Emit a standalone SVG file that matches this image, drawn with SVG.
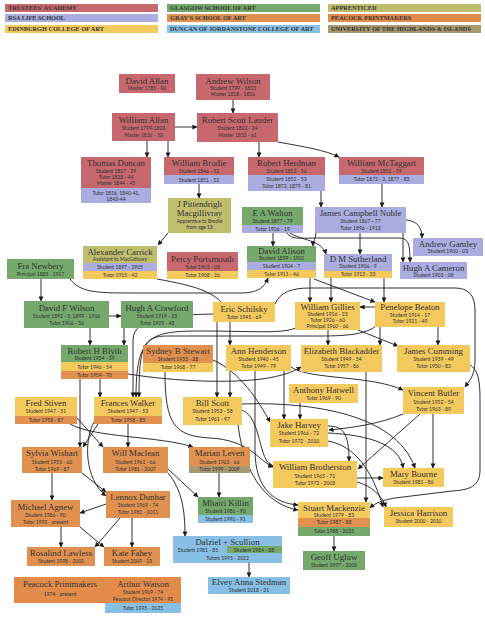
<svg xmlns="http://www.w3.org/2000/svg" width="485" height="620" viewBox="0 0 485 620">
<defs>
<marker id="ah" markerWidth="5" markerHeight="5" refX="4.6" refY="2.5" orient="auto" markerUnits="userSpaceOnUse"><path d="M0,0 L5,2.5 L0,5 z" fill="#1a1a1a"/></marker>
</defs>
<style>
.tr{fill:#c7686f}.rs{fill:#a9ade0}.ec{fill:#f4c95e}.gs{fill:#74a96b}.gr{fill:#e0914f}.dj{fill:#87bfe5}.ap{fill:#c0bd6f}.pp{fill:#e38b4a}.uh{fill:#a9986f}
.n{font-family:"Liberation Serif",serif;font-size:8.8px;fill:#333;text-anchor:middle}
.d{font-family:Lato,"Liberation Sans",sans-serif;font-size:5px;fill:#333;text-anchor:middle}
.lg{font-family:"Liberation Serif",serif;font-weight:bold;font-size:6.3px;fill:#333}
#connectors path{fill:none;stroke:#1a1a1a;stroke-width:0.9;marker-end:url(#ah)}
</style>
<rect width="485" height="620" fill="#ffffff"/>
<g id="legend">
<rect class="tr" x="5" y="4" width="153" height="8"/><text class="lg" x="8" y="10.2">TRUSTEES' ACADEMY</text>
<rect class="rs" x="5" y="14" width="153" height="8"/><text class="lg" x="8" y="20.2">RSA LIFE SCHOOL</text>
<rect class="ec" x="5" y="25" width="153" height="8"/><text class="lg" x="8" y="31.2">EDINBURGH COLLEGE OF ART</text>
<rect class="gs" x="167" y="4" width="153" height="8"/><text class="lg" x="170" y="10.2">GLASGOW SCHOOL OF ART</text>
<rect class="gr" x="167" y="14" width="153" height="8"/><text class="lg" x="170" y="20.2">GRAY'S SCHOOL OF ART</text>
<rect class="dj" x="167" y="25" width="153" height="8"/><text class="lg" x="170" y="31.2">DUNCAN OF JORDANSTONE COLLEGE OF ART</text>
<rect class="ap" x="328" y="4" width="153" height="8"/><text class="lg" x="331" y="10.2">APPRENTICED</text>
<rect class="pp" x="328" y="14" width="153" height="8"/><text class="lg" x="331" y="20.2">PEACOCK PRINTMAKERS</text>
<rect class="uh" x="328" y="25" width="153" height="8"/><text class="lg" x="331" y="31.2">UNIVERSITY OF THE HIGHLANDS &amp; ISLANDS</text>
</g>
<g id="connectors">
<path d="M233,100 V113"/>
<path d="M175,127 H197"/>
<path d="M147,141 V157"/>
<path d="M168,141 V157"/>
<path d="M259,142 V157"/>
<path d="M278,142 C305,147 325,150 339,157"/>
<path d="M199,184 V198"/>
<path d="M168,233 L158,245"/>
<path d="M321,191 V207"/>
<path d="M382,184 V207"/>
<path d="M406,220 C418,221 422,228 422,238"/>
<path d="M273,233 V246"/>
<path d="M290,233 C300,240 322,240 326,254"/>
<path d="M360,233 V254"/>
<path d="M316,233 C316,238 313,241 313,246"/>
<path d="M403,233 V262"/>
<path d="M287,233 C292,240 300,238 320,238 L398,238 C408,238 410,242 410,262"/>
<path d="M41,279 V301"/>
<path d="M109,316 H121"/>
<path d="M70,279 C80,292 95,293 130,293 L240,293 C258,293 264,288 268,278"/>
<path d="M90,328 V345"/>
<path d="M124,328 V345"/>
<path d="M157,279 C195,286 225,292 230,320 L230,345"/>
<path d="M217,322 V397"/>
<path d="M230,371 V397"/>
<path d="M310,278 V302"/>
<path d="M331,278 V302"/>
<path d="M384,278 V302"/>
<path d="M314,279 L375,302"/>
<path d="M375,307 H360"/>
<path d="M275,304 C280,292 292,288 310,288 L455,288 C468,288 475,295 475,310 L475,360 C475,375 470,380 465,387"/>
<path d="M470,365 C478,370 480,380 480,400 L480,470 C480,486 470,490 452,491 L395,498 C383,500 375,503 370,508"/>
<path d="M328,330 V345"/>
<path d="M438,327 V345"/>
<path d="M380,327 V345"/>
<path d="M358,330 L398,346"/>
<path d="M213,314 C175,315 133,316 133,340 V397"/>
<path d="M296,328 C280,334 255,331 200,331 C150,331 136,336 136,397"/>
<path d="M376,326 C362,337 335,336 300,336 L170,336 C145,336 139,341 139,397"/>
<path d="M100,379 V397"/>
<path d="M80,379 V447"/>
<path d="M128,374 C180,382 230,383 262,379 C282,376 293,372 301,367"/>
<path d="M213,360 C240,372 258,400 270,422"/>
<path d="M165,372 C165,425 175,436 210,438 C250,440 260,462 273,467"/>
<path d="M291,367 C310,380 370,375 403,390"/>
<path d="M284,371 V419"/>
<path d="M255,371 L255,450 C255,490 275,503 298,505"/>
<path d="M300,403 V419"/>
<path d="M403,414 C380,424 350,428 329,430"/>
<path d="M366,372 V502"/>
<path d="M433,414 V468"/>
<path d="M420,414 L358,469"/>
<path d="M328,433 C370,435 400,445 403,468"/>
<path d="M357,478 H383"/>
<path d="M357,482 C372,486 382,496 386,507"/>
<path d="M328,441 C355,446 372,470 383,507"/>
<path d="M328,426 C343,426 349,433 349,461"/>
<path d="M242,410 C262,418 258,462 273,466"/>
<path d="M238,425 C245,480 270,505 298,510"/>
<path d="M242,404 C300,402 395,410 415,468"/>
<path d="M77,418 L103,447"/>
<path d="M70,424 C95,438 160,436 193,447"/>
<path d="M98,424 L83,447"/>
<path d="M128,424 V447"/>
<path d="M94,422 C84,440 84,478 106,496"/>
<path d="M82,473 L106,492"/>
<path d="M52,473 V500"/>
<path d="M106,504 L80,513"/>
<path d="M168,469 L198,497"/>
<path d="M168,473 C182,490 185,510 185,536"/>
<path d="M219,473 V497"/>
<path d="M61,527 V547"/>
<path d="M80,527 L104,547"/>
<path d="M120,518 L95,547"/>
<path d="M132,518 V547"/>
<path d="M249,563 V577"/>
<path d="M334,536 V551"/>
</g>
<g id="david-allan"><rect class="tr" x="119" y="74" width="56" height="19"/><text class="n" x="147" y="83.5">David Allan</text><text class="d" x="147" y="90">Master 1785 - 96</text></g>
<g id="andrew-wilson"><rect class="tr" x="196" y="74" width="74" height="26"/><text class="n" x="233" y="83.5">Andrew Wilson</text><text class="d" x="233" y="89.5">Student 1799 - 1803</text><text class="d" x="233" y="96">Master 1818 - 1826</text></g>
<g id="william-allan"><rect class="tr" x="112" y="113" width="63" height="28"/><text class="n" x="143.5" y="122.5">William Allan</text><text class="d" x="143.5" y="129.5">Student 1799-1803</text><text class="d" x="143.5" y="136.5">Master 1826 - 50</text></g>
<g id="robert-scott-lauder"><rect class="tr" x="197" y="113" width="81" height="29"/><text class="n" x="237.5" y="122.5">Robert Scott Lauder</text><text class="d" x="237.5" y="129.5">Student 1822 - 24</text><text class="d" x="237.5" y="136.5">Master 1852 - 61</text></g>
<g id="thomas-duncan"><rect class="tr" x="81" y="157" width="70" height="31"/><rect class="rs" x="81" y="188" width="70" height="15"/><text class="n" x="116" y="166.3">Thomas Duncan</text><text class="d" x="116" y="172.5">Student 1817 - 29</text><text class="d" x="116" y="178.5">Tutor 1838 - 44</text><text class="d" x="116" y="184.5">Master 1844 - 45</text><text class="d" x="116" y="194.5">Tutor 1836, 1840-41,</text><text class="d" x="116" y="200.5">1843-44</text></g>
<g id="william-brodie"><rect class="tr" x="164" y="157" width="70" height="18"/><rect class="rs" x="164" y="175" width="70" height="9"/><text class="n" x="199" y="166.3">William Brodie</text><text class="d" x="199" y="172.5">Student 1846 - 52</text><text class="d" x="199" y="181.5">Student 1851 - 52</text></g>
<g id="robert-herdman"><rect class="tr" x="248" y="157" width="77" height="18"/><rect class="rs" x="248" y="175" width="77" height="16"/><text class="n" x="286.5" y="166.3">Robert Herdman</text><text class="d" x="286.5" y="172.5">Student 1852 - 56</text><text class="d" x="286.5" y="181">Student 1852 - 53</text><text class="d" x="286.5" y="188">Tutor 1872, 1879 - 81</text></g>
<g id="william-mctaggart"><rect class="tr" x="339" y="157" width="85" height="18"/><rect class="rs" x="339" y="175" width="85" height="9"/><text class="n" x="381.5" y="166.3">William McTaggart</text><text class="d" x="381.5" y="172.5">Student 1852 - 59</text><text class="d" x="381.5" y="181.3">Tutor 1872 - 3, 1877 - 83</text></g>
<g id="pittendrigh-macgillivray"><rect class="ap" x="168" y="198" width="63" height="35"/><text class="n" x="199.5" y="206.6">J Pittendrigh</text><text class="n" x="199.5" y="215.8">Macgillivray</text><text class="d" x="199.5" y="223">Apprentice to Brodie</text><text class="d" x="199.5" y="228.8">from age 13</text></g>
<g id="ea-walton"><rect class="gs" x="242" y="207" width="61" height="18"/><rect class="rs" x="242" y="225" width="61" height="8"/><text class="n" x="272.5" y="216">E A Walton</text><text class="d" x="272.5" y="222.5">Student 1877 - 79</text><text class="d" x="272.5" y="230.5">Tutor 1906 - 19</text></g>
<g id="james-campbell-noble"><rect class="rs" x="315" y="207" width="91" height="26"/><text class="n" x="360.5" y="216">James Campbell Noble</text><text class="d" x="360.5" y="222.5">Student 1867 - 77</text><text class="d" x="360.5" y="230">Tutor 1896 - 1913</text></g>
<g id="andrew-gamley"><rect class="rs" x="413" y="238" width="70" height="18"/><text class="n" x="448" y="247.3">Andrew Gamley</text><text class="d" x="448" y="252.8">Student 1900 - 03</text></g>
<g id="alexander-carrick"><rect class="ap" x="83" y="246" width="74" height="17"/><rect class="rs" x="83" y="263" width="74" height="8"/><rect class="ec" x="83" y="271" width="74" height="8"/><text class="n" x="120" y="255">Alexander Carrick</text><text class="d" x="120" y="261">Assistant to MacGillivary</text><text class="d" x="120" y="269">Student 1897 - 1905</text><text class="d" x="120" y="277">Tutor 1915 - 42</text></g>
<g id="percy-portsmouth"><rect class="tr" x="167" y="252" width="71" height="19"/><rect class="ec" x="167" y="271" width="71" height="8"/><text class="n" x="202.5" y="261.5">Percy Portsmouth</text><text class="d" x="202.5" y="268.5">Tutor 1903 - 08</text><text class="d" x="202.5" y="276.5">Tutor 1908 - 26</text></g>
<g id="david-alison"><rect class="gs" x="247" y="246" width="69" height="16"/><rect class="rs" x="247" y="262" width="69" height="8"/><rect class="ec" x="247" y="270" width="69" height="8"/><text class="n" x="281.5" y="253.5">David Alison</text><text class="d" x="281.5" y="260">Student 1899 - 1901</text><text class="d" x="281.5" y="268">Student 1904 - 7</text><text class="d" x="281.5" y="276">Tutor 1911 - 46</text></g>
<g id="dm-sutherland"><rect class="rs" x="324" y="254" width="68" height="17"/><rect class="ec" x="324" y="271" width="68" height="7"/><text class="n" x="358" y="262">D M Sutherland</text><text class="d" x="358" y="268.3">Student 1906 - 9</text><text class="d" x="358" y="276.3">Tutor 1913 - 33</text></g>
<g id="hugh-a-cameron"><rect class="rs" x="400" y="262" width="67" height="17"/><text class="n" x="433.5" y="270.5">Hugh A Cameron</text><text class="d" x="433.5" y="276.8">Student 1903 - 08</text></g>
<g id="fra-newbery"><rect class="gs" x="7" y="259" width="67" height="20"/><text class="n" x="40.5" y="269">Fra Newbery</text><text class="d" x="40.5" y="275.5">Principal 1885 - 1917</text></g>
<g id="david-f-wilson"><rect class="gs" x="24" y="301" width="85" height="27"/><text class="n" x="66.5" y="311">David F Wilson</text><text class="d" x="66.5" y="317.8">Student 1892 - 3, 1899 - 1906</text><text class="d" x="66.5" y="324.5">Tutor 1906 - 36</text></g>
<g id="hugh-a-crawford"><rect class="gs" x="121" y="301" width="72" height="27"/><text class="n" x="157" y="311">Hugh A Crawford</text><text class="d" x="157" y="317.8">Student 1919 - 23</text><text class="d" x="157" y="324.5">Tutor 1925 - 48</text></g>
<g id="eric-schilsky"><rect class="ec" x="213" y="302" width="62" height="20"/><text class="n" x="244" y="311.5">Eric Schilsky</text><text class="d" x="244" y="318.5">Tutor 1945 - 69</text></g>
<g id="william-gillies"><rect class="ec" x="295" y="302" width="65" height="28"/><text class="n" x="327.5" y="309.6">William Gillies</text><text class="d" x="327.5" y="316.3">Student 1916 - 23</text><text class="d" x="327.5" y="322.1">Tutor 1926 - 60</text><text class="d" x="327.5" y="327.9">Principal 1960 - 66</text></g>
<g id="penelope-beaton"><rect class="ec" x="375" y="302" width="70" height="25"/><text class="n" x="410" y="310.3">Penelope Beaton</text><text class="d" x="410" y="316.8">Student 1914 - 17</text><text class="d" x="410" y="322.8">Tutor 1921 - 49</text></g>
<g id="robert-h-blyth"><rect class="gs" x="61" y="345" width="67" height="17"/><rect class="ec" x="61" y="362" width="67" height="9"/><rect class="gr" x="61" y="371" width="67" height="8"/><text class="n" x="94.5" y="353.8">Robert H Blyth</text><text class="d" x="94.5" y="360">Student 1934 - 39</text><text class="d" x="94.5" y="368.5">Tutor 1946 - 54</text><text class="d" x="94.5" y="376.8">Tutor 1954 - 70</text></g>
<g id="sydney-b-stewart"><rect class="gr" x="143" y="345" width="70" height="18"/><rect class="ec" x="143" y="363" width="70" height="9"/><text class="n" x="178" y="354">Sydney B Stewart</text><text class="d" x="178" y="360.8">Student 1933 - 38</text><text class="d" x="178" y="369.3">Tutor 1968 - 77</text></g>
<g id="ann-henderson"><rect class="ec" x="226" y="345" width="65" height="26"/><text class="n" x="258.5" y="354">Ann Henderson</text><text class="d" x="258.5" y="360.8">Student 1940 - 45</text><text class="d" x="258.5" y="367.8">Tutor 1949 - 79</text></g>
<g id="elizabeth-blackadder"><rect class="ec" x="301" y="345" width="81" height="27"/><text class="n" x="341.5" y="354">Elizabeth Blackadder</text><text class="d" x="341.5" y="360.8">Student 1949 - 54</text><text class="d" x="341.5" y="367.8">Tutor 1957 - 86</text></g>
<g id="james-cumming"><rect class="ec" x="397" y="345" width="73" height="27"/><text class="n" x="433.5" y="354">James Cumming</text><text class="d" x="433.5" y="360.8">Student 1939 - 49</text><text class="d" x="433.5" y="367.8">Tutor 1950 - 82</text></g>
<g id="anthony-hatwell"><rect class="ec" x="289" y="384" width="69" height="19"/><text class="n" x="323.5" y="393">Anthony Hatwell</text><text class="d" x="323.5" y="400">Tutor 1969 - 90</text></g>
<g id="vincent-butler"><rect class="ec" x="403" y="387" width="61" height="27"/><text class="n" x="433.5" y="396.3">Vincent Butler</text><text class="d" x="433.5" y="403.5">Student 1952 - 54</text><text class="d" x="433.5" y="410.8">Tutor 1963 - 89</text></g>
<g id="fred-stiven"><rect class="ec" x="15" y="397" width="62" height="19"/><rect class="gr" x="15" y="416" width="62" height="8"/><text class="n" x="46" y="406.3">Fred Stiven</text><text class="d" x="46" y="412.8">Student 1947 - 51</text><text class="d" x="46" y="421.8">Tutor 1958 - 87</text></g>
<g id="frances-walker"><rect class="ec" x="94" y="397" width="68" height="19"/><rect class="gr" x="94" y="416" width="68" height="8"/><text class="n" x="128" y="406.3">Frances Walker</text><text class="d" x="128" y="412.8">Student 1947 - 53</text><text class="d" x="128" y="421.8">Tutor 1958 - 85</text></g>
<g id="bill-scott"><rect class="ec" x="183" y="397" width="59" height="28"/><text class="n" x="212.5" y="406.3">Bill Scott</text><text class="d" x="212.5" y="412.8">Student 1953 - 58</text><text class="d" x="212.5" y="421">Tutor 1961 - 97</text></g>
<g id="jake-harvey"><rect class="ec" x="270" y="419" width="58" height="28"/><text class="n" x="299" y="427.6">Jake Harvey</text><text class="d" x="299" y="435.3">Student 1966 - 72</text><text class="d" x="299" y="443">Tutor 1972 - 2010</text></g>
<g id="sylvia-wishart"><rect class="gr" x="22" y="447" width="60" height="26"/><text class="n" x="52" y="456.3">Sylvia Wishart</text><text class="d" x="52" y="464">Student 1955 - 60</text><text class="d" x="52" y="470.8">Tutor 1969 - 87</text></g>
<g id="will-maclean"><rect class="gr" x="103" y="447" width="65" height="26"/><text class="n" x="135.5" y="456.3">Will Maclean</text><text class="d" x="135.5" y="464">Student 1961 - 66</text><text class="d" x="135.5" y="470.8">Tutor 1981 - 2007</text></g>
<g id="marian-leven"><rect class="gr" x="189" y="447" width="61" height="19"/><rect class="uh" x="189" y="466" width="61" height="7"/><text class="n" x="219.5" y="456.3">Marian Leven</text><text class="d" x="219.5" y="464">Student 1962 - 66</text><text class="d" x="219.5" y="471.3">Tutor 1999 - 2009</text></g>
<g id="william-brotherston"><rect class="ec" x="273" y="461" width="84" height="27"/><text class="n" x="315" y="470.3">William Brotherston</text><text class="d" x="315" y="477.5">Student 1965 - 71</text><text class="d" x="315" y="484.5">Tutor 1972 - 2003</text></g>
<g id="mary-bourne"><rect class="ec" x="383" y="468" width="61" height="19"/><text class="n" x="413.5" y="477">Mary Bourne</text><text class="d" x="413.5" y="484">Student 1981 - 86</text></g>
<g id="michael-agnew"><rect class="gr" x="11" y="500" width="69" height="27"/><text class="n" x="45.5" y="510.3">Michael Agnew</text><text class="d" x="45.5" y="516.8">Student 1986 - 90</text><text class="d" x="45.5" y="523.5">Tutor 1993 - present</text></g>
<g id="lennox-dunbar"><rect class="gr" x="106" y="491" width="64" height="27"/><text class="n" x="138" y="500">Lennox Dunbar</text><text class="d" x="138" y="506.8">Student 1969 - 74</text><text class="d" x="138" y="513.5">Tutor 1981 - 2011</text></g>
<g id="mhairi-killin"><rect class="gs" x="198" y="497" width="55" height="18"/><rect class="dj" x="198" y="515" width="55" height="8"/><text class="n" x="225.5" y="506">Mhairi Killin</text><text class="d" x="225.5" y="512.8">Student 1986 - 90</text><text class="d" x="225.5" y="521">Student 1990 - 91</text></g>
<g id="stuart-mackenzie"><rect class="ec" x="298" y="502" width="72" height="16"/><rect class="gr" x="298" y="518" width="72" height="9"/><rect class="gs" x="298" y="527" width="72" height="9"/><text class="n" x="334" y="510.6">Stuart Mackenzie</text><text class="d" x="334" y="516.8">Student 1979 - 83</text><text class="d" x="334" y="524.3">Tutor 1987 - 88</text><text class="d" x="334" y="533.3">Tutor 1988 - 2025</text></g>
<g id="jessica-harrison"><rect class="ec" x="384" y="507" width="69" height="20"/><text class="n" x="418.5" y="516">Jessica Harrison</text><text class="d" x="418.5" y="523">Student 2000 - 2010</text></g>
<g id="rosalind-lawless"><rect class="gr" x="27" y="547" width="68" height="19"/><text class="n" x="61" y="556.3">Rosalind Lawless</text><text class="d" x="61" y="562.8">Student 1998 - 2002</text></g>
<g id="kate-fahey"><rect class="gr" x="104" y="547" width="56" height="19"/><text class="n" x="132" y="556.3">Kate Fahey</text><text class="d" x="132" y="562.8">Student 2009 - 13</text></g>
<g id="dalziel-scullion"><rect class="dj" x="173" y="536" width="109" height="27"/><rect class="gs" x="227" y="546" width="55" height="7"/><text class="n" x="227.5" y="544.8">Dalziel + Scullion</text><text class="d" x="198" y="551.5">Student 1981 - 85</text><text class="d" x="254" y="551.5">Student 1984 - 88</text><text class="d" x="227.5" y="560">Tutors 1995 - 2022</text></g>
<g id="geoff-uglow"><rect class="gs" x="303" y="551" width="62" height="19"/><text class="n" x="334" y="560.3">Geoff Uglow</text><text class="d" x="334" y="566.5">Student 1997 - 2000</text></g>
<g id="elvey-anna-stedman"><rect class="dj" x="208" y="577" width="82" height="17"/><text class="n" x="249" y="585.3">Elvey Anna Stedman</text><text class="d" x="249" y="591.8">Student 2018 - 21</text></g>
<g id="peacock-printmakers"><rect class="pp" x="14" y="577" width="92" height="26"/><text class="n" x="60" y="587">Peacock Printmakers</text><text class="d" x="60" y="595.8">1974 - present</text></g>
<g id="arthur-watson"><rect class="pp" x="105" y="577" width="76" height="26"/><rect class="dj" x="105" y="603" width="76" height="10"/><text class="n" x="143" y="587">Arthur Watson</text><text class="d" x="143" y="593.5">Student 1969 - 74</text><text class="d" x="143" y="601">Peacock Director 1974 - 95</text><text class="d" x="143" y="610">Tutor 1995 - 2025</text></g>
</svg>
